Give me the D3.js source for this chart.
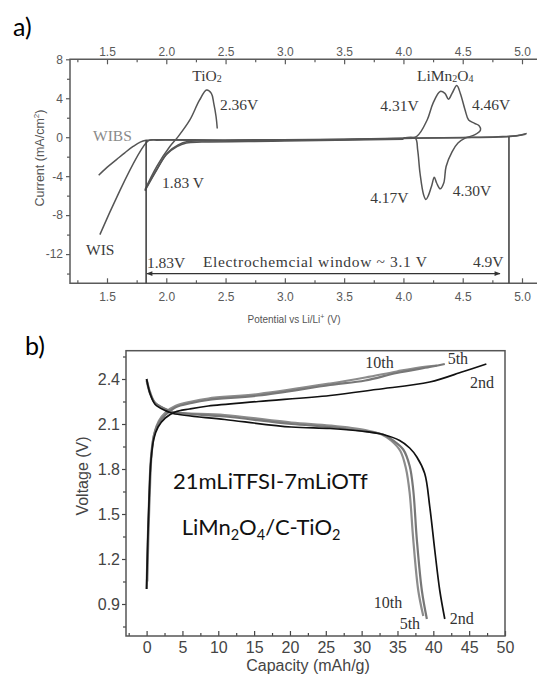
<!DOCTYPE html>
<meta charset="utf-8">
<style>
    body { margin: 0; background: #fff; }
    svg { display: block; }
    .tick text { font-family: "Liberation Sans", Arial, sans-serif; }
    .serif { font-family: "Liberation Serif", "Times New Roman", serif; }
</style>
<svg width="537" height="676"></svg>
<script src="https://cdnjs.cloudflare.com/ajax/libs/d3/7.8.5/d3.min.js"></script>
<script>

    // ---------- panel a: linear sweeps (V vs Li/Li+, mA/cm2) ----------
    var wibs = [[1.43, -3.9], [1.5, -3.1], [1.58, -2.3], [1.65, -1.6], [1.72, -0.95], [1.78, -0.5],
        [1.83, -0.32], [1.9, -0.27], [2.5, -0.28], [3.5, -0.22], [4.0, -0.1], [4.5, -0.02],
        [4.8, 0.05], [4.95, 0.15], [5.04, 0.38]];
    var wis = [[1.44, -10.0], [1.85, -0.35], [1.92, -0.3], [2.5, -0.33], [3.5, -0.25], [4.0, -0.12],
        [4.5, -0.05], [4.8, 0.02], [4.95, 0.12], [5.03, 0.3]];
    var tio2Up = [[1.82, -5.4], [1.92, -3.0], [2.03, -0.96], [2.10, 0.06], [2.20, 1.8], [2.28, 3.8],
        [2.34, 4.85], [2.38, 4.5], [2.40, 3.5], [2.42, 2.1], [2.43, 0.9]];
    var tio2Down1 = [[1.82, -5.5], [1.92, -3.35], [2.0, -1.8], [2.09, -0.96], [2.17, -0.6],
        [2.3, -0.5], [3.0, -0.4], [4.0, -0.2]];
    var tio2Down2 = [[1.83, -5.2], [1.93, -3.1], [2.01, -1.6], [2.1, -0.8], [2.18, -0.45],
        [2.3, -0.38], [3.0, -0.3], [4.0, -0.12]];
    var lmo = [[4.0, -0.05], [4.11, 0.06], [4.20, 1.77], [4.25, 3.5], [4.31, 4.7], [4.35, 4.5],
        [4.38, 3.9], [4.41, 4.5], [4.45, 5.3], [4.48, 4.5], [4.52, 2.8], [4.55, 1.77], [4.60, 1.43],
        [4.64, 1.16], [4.65, 0.75], [4.60, 0.24], [4.52, -0.1], [4.46, -0.6], [4.41, -1.5],
        [4.36, -3.0], [4.34, -4.7], [4.31, -5.3], [4.28, -4.7], [4.26, -4.1], [4.24, -4.9],
        [4.21, -6.0], [4.19, -6.4], [4.17, -5.9], [4.14, -3.7], [4.12, -1.3], [4.10, -0.1], [4.0, -0.08]];

    var potTicks = [1.5, 2.0, 2.5, 3.0, 3.5, 4.0, 4.5, 5.0];
    var potMinor = [1.25, 1.75, 2.25, 2.75, 3.25, 3.75, 4.25, 4.75];
    var curTicks = [-12, -8, -4, 0, 4, 8];
    var curMinor = [-14, -10, -6, -2, 2, 6];

    var winLeft = 1.83, winRight = 4.89;
    var notesA = [
        {t: "TiO_2", x: 2.343, y: 5.78, anchor: "middle"},
        {t: "2.36V", x: 2.453, y: 2.8},
        {t: "LiMn_2O_4", x: 4.114, y: 5.78},
        {t: "4.31V", x: 3.805, y: 2.7},
        {t: "4.46V", x: 4.578, y: 2.8},
        {t: "WIBS", x: 1.382, y: -0.43, fill: "#8a8a8a"},
        {t: "1.83 V", x: 1.964, y: -5.2},
        {t: "WIS", x: 1.323, y: -12.07},
        {t: "1.83V", x: 1.837, y: -13.4},
        {t: "Electrochemcial window ~ 3.1 V", x: 2.309, y: -13.3, len: 224},
        {t: "4.9V", x: 4.586, y: -13.3},
        {t: "4.17V", x: 3.72, y: -6.74},
        {t: "4.30V", x: 4.417, y: -6.02}
    ];

    // ---------- panel b: charge / discharge (mAh/g, V) ----------
    var charge2 = [[0, 1.0], [0.15, 1.3], [0.35, 1.6], [0.6, 1.85], [1.0, 2.0], [1.6, 2.08], [2.6, 2.14],
        [4.0, 2.18], [6, 2.2], [8.6, 2.22], [15.6, 2.25], [25.6, 2.29], [32, 2.33], [39.5, 2.38],
        [44.2, 2.45], [47.4, 2.50]];
    var charge5 = [[0, 1.0], [0.15, 1.3], [0.35, 1.6], [0.6, 1.87], [1.0, 2.02], [1.6, 2.1], [2.6, 2.16],
        [4.0, 2.21], [6.3, 2.24], [8.6, 2.26], [15.6, 2.29], [25.6, 2.36], [30.5, 2.39], [34.9, 2.44],
        [39.5, 2.48], [41.6, 2.50]];
    var charge10 = [[0.1, 1.05], [0.25, 1.35], [0.45, 1.65], [0.7, 1.9], [1.1, 2.04], [1.7, 2.12],
        [2.7, 2.18], [4.0, 2.22], [6.3, 2.25], [8.6, 2.27], [15.6, 2.3], [25.6, 2.37], [30.5, 2.41],
        [34.9, 2.45], [38.5, 2.48], [40.5, 2.49]];
    var discharge2 = [[0, 2.40], [0.5, 2.30], [1.2, 2.23], [2.6, 2.19], [3.7, 2.17], [10.9, 2.13],
        [20.2, 2.08], [25.6, 2.07], [30.5, 2.05], [33, 2.03], [35.3, 1.99], [36.7, 1.94], [37.7, 1.88],
        [38.8, 1.77], [39.5, 1.55], [40.2, 1.26], [40.9, 0.99], [41.6, 0.80]];
    var discharge5 = [[0, 2.40], [0.5, 2.31], [1.2, 2.24], [2.6, 2.2], [3.7, 2.18], [10.9, 2.15],
        [20.2, 2.1], [25.6, 2.08], [30.5, 2.05], [33, 2.03], [34.4, 1.99], [35.8, 1.93], [36.7, 1.82],
        [37.2, 1.66], [37.7, 1.33], [38.4, 0.99], [39.1, 0.80]];
    var discharge10 = [[0, 2.39], [0.5, 2.3], [1.2, 2.24], [2.6, 2.2], [3.7, 2.18], [10.9, 2.16],
        [20.2, 2.11], [25.6, 2.09], [30.5, 2.06], [32.8, 2.03], [34.1, 1.99], [35.4, 1.92], [36.2, 1.8],
        [36.7, 1.64], [37.2, 1.33], [37.9, 0.99], [38.6, 0.82]];

    var capTicks = [0, 5, 10, 15, 20, 25, 30, 35, 40, 45, 50];
    var capMinor = [-2.5, 2.5, 7.5, 12.5, 17.5, 22.5, 27.5, 32.5, 37.5, 42.5, 47.5];
    var voltTicks = [0.9, 1.2, 1.5, 1.8, 2.1, 2.4];
    var voltMinor = [0.75, 1.05, 1.35, 1.65, 1.95, 2.25, 2.55];

    var notesB = [
        {t: "10th", x: 30.5, y: 2.475},
        {t: "5th", x: 42.0, y: 2.50},
        {t: "2nd", x: 45.1, y: 2.342},
        {t: "10th", x: 31.7, y: 0.875},
        {t: "5th", x: 35.3, y: 0.733},
        {t: "2nd", x: 42.3, y: 0.765}
    ];

    var svg = d3.select("svg");

    // writes "LiMn_2O_4" as text with subscripts
    function rich(sel, str, subSize, subDy) {
        var parts = str.split("_");
        sel.append("tspan").text(parts[0]);
        for (var i = 1; i < parts.length; i++) {
            sel.append("tspan").attr("font-size", subSize).attr("dy", subDy).text(parts[i].charAt(0));
            sel.append("tspan").attr("dy", -subDy).text(parts[i].slice(1));
        }
    }

    function styleAxis(g, color, fontSize) {
        g.select(".domain").remove();
        g.selectAll(".tick line").attr("stroke", color).attr("stroke-width", 1.2);
        g.selectAll(".tick text").attr("fill", color).attr("font-size", fontSize);
    }

    var plain = function (d) { return String(d); };
    var oneDec = function (d) { return d.toFixed(1); };

    // ================= panel a =================
    var xA = d3.scaleLinear().domain([1.5, 5.0]).range([107, 522]);
    var yA = d3.scaleLinear().domain([-15, 8]).range([283.3, 59.3]);
    var fa = {l: 70, r: 540, t: 59.3, b: 283.3};
    var axCol = "#5a5a5a";

    svg.append("text").attr("x", 13).attr("y", 36)
        .attr("font-family", "Lato, 'Open Sans', sans-serif").attr("font-size", 25).text("a)");

    var gA = svg.append("g");

    gA.append("g").attr("transform", "translate(0," + fa.b + ")")
        .call(d3.axisBottom(xA).tickValues(potTicks).tickFormat(oneDec)
            .tickSizeInner(-5).tickSizeOuter(0).tickPadding(9))
        .call(styleAxis, axCol, 12);
    gA.append("g").attr("transform", "translate(0," + fa.b + ")")
        .call(d3.axisBottom(xA).tickValues(potMinor).tickFormat("").tickSizeInner(-3).tickSizeOuter(0))
        .call(styleAxis, axCol, 12);
    gA.append("g").attr("transform", "translate(0," + fa.t + ")")
        .call(d3.axisTop(xA).tickValues(potTicks).tickFormat(oneDec)
            .tickSizeInner(-5).tickSizeOuter(0).tickPadding(3.5))
        .call(styleAxis, axCol, 12);
    gA.append("g").attr("transform", "translate(0," + fa.t + ")")
        .call(d3.axisTop(xA).tickValues(potMinor).tickFormat("").tickSizeInner(-3).tickSizeOuter(0))
        .call(styleAxis, axCol, 12);
    gA.append("g").attr("transform", "translate(" + fa.l + ",0)")
        .call(d3.axisLeft(yA).tickValues(curTicks).tickFormat(plain)
            .tickSizeInner(4).tickSizeOuter(0).tickPadding(3))
        .call(styleAxis, axCol, 12);
    gA.append("g").attr("transform", "translate(" + fa.l + ",0)")
        .call(d3.axisLeft(yA).tickValues(curMinor).tickFormat("").tickSizeInner(3).tickSizeOuter(0))
        .call(styleAxis, axCol, 12);

    gA.append("path")
        .attr("d", "M" + fa.r + "," + fa.t + "H" + fa.l + "V" + fa.b + "H" + fa.r)
        .attr("fill", "none").attr("stroke", axCol).attr("stroke-width", 1.5);

    var lineA = d3.line().x(function (d) { return xA(d[0]); }).y(function (d) { return yA(d[1]); })
        .curve(d3.curveCatmullRom.alpha(0.5));

    [wibs, wis, tio2Down1, tio2Down2, tio2Up, lmo].forEach(function (s) {
        gA.append("path").datum(s).attr("d", lineA)
            .attr("fill", "none").attr("stroke", "#555").attr("stroke-width", 1.5);
    });

    // window limits
    gA.append("line").attr("x1", xA(winLeft)).attr("x2", xA(winLeft))
        .attr("y1", yA(-0.3)).attr("y2", fa.b).attr("stroke", "#444").attr("stroke-width", 1.6);
    gA.append("line").attr("x1", xA(winRight)).attr("x2", xA(winRight))
        .attr("y1", yA(0.05)).attr("y2", fa.b).attr("stroke", "#444").attr("stroke-width", 1.6);

    svg.append("defs").selectAll("marker").data(["s", "e"]).enter().append("marker")
        .attr("id", function (d) { return "arr" + d; })
        .attr("viewBox", "0 0 10 10").attr("refX", 9).attr("refY", 5)
        .attr("markerWidth", 7).attr("markerHeight", 5).attr("orient", "auto-start-reverse")
        .append("path").attr("d", "M0,1L10,5L0,9Z").attr("fill", "#333");
    gA.append("line").attr("x1", xA(1.837)).attr("x2", xA(4.814))
        .attr("y1", yA(-14)).attr("y2", yA(-14))
        .attr("stroke", "#333").attr("stroke-width", 1.2)
        .attr("marker-start", "url(#arrs)").attr("marker-end", "url(#arre)");

    notesA.forEach(function (n) {
        var t = gA.append("text").attr("class", "serif")
            .attr("x", xA(n.x)).attr("y", yA(n.y))
            .attr("font-size", 15.5).attr("fill", n.fill || "#3a3a3a")
            .attr("text-anchor", n.anchor || "start");
        if (n.len) t.attr("textLength", n.len).attr("lengthAdjust", "spacing");
        rich(t, n.t, 10, 1.5);
    });

    var yLabA = svg.append("text").attr("transform", "translate(44,158) rotate(-90)")
        .attr("text-anchor", "middle").attr("font-family", "'Liberation Sans', Arial, sans-serif")
        .attr("font-size", 12.5).attr("fill", "#555");
    yLabA.append("tspan").text("Current (mA/cm");
    yLabA.append("tspan").attr("font-size", 8).attr("dy", -5).text("2");
    yLabA.append("tspan").attr("dy", 5).text(")");

    var xLabA = svg.append("text").attr("x", 294).attr("y", 323)
        .attr("text-anchor", "middle").attr("font-family", "'Liberation Sans', Arial, sans-serif")
        .attr("font-size", 10).attr("fill", "#555");
    xLabA.append("tspan").text("Potential vs Li/Li");
    xLabA.append("tspan").attr("font-size", 7).attr("dy", -4).text("+");
    xLabA.append("tspan").attr("dy", 4).text(" (V)");

    // ================= panel b =================
    var xB = d3.scaleLinear().domain([0, 50]).range([146.6, 505]);
    var yB = d3.scaleLinear().domain([0.9, 2.4]).range([604, 379]);
    var fb = {l: 126, r: 505, t: 350.7, b: 636};
    var axColB = "#444";

    svg.append("text").attr("x", 25).attr("y", 355)
        .attr("font-family", "Lato, 'Open Sans', sans-serif").attr("font-size", 25).text("b)");

    var gB = svg.append("g");

    gB.append("g").attr("transform", "translate(0," + fb.b + ")")
        .call(d3.axisBottom(xB).tickValues(capTicks).tickFormat(plain)
            .tickSizeInner(-5).tickSizeOuter(0).tickPadding(6))
        .call(styleAxis, axColB, 16);
    gB.append("g").attr("transform", "translate(0," + fb.b + ")")
        .call(d3.axisBottom(xB).tickValues(capMinor).tickFormat("").tickSizeInner(-3).tickSizeOuter(0))
        .call(styleAxis, axColB, 16);
    gB.append("g").attr("transform", "translate(" + fb.l + ",0)")
        .call(d3.axisLeft(yB).tickValues(voltTicks).tickFormat(oneDec)
            .tickSizeInner(4).tickSizeOuter(0).tickPadding(2))
        .call(styleAxis, axColB, 16);
    gB.append("g").attr("transform", "translate(" + fb.l + ",0)")
        .call(d3.axisLeft(yB).tickValues(voltMinor).tickFormat("").tickSizeInner(3).tickSizeOuter(0))
        .call(styleAxis, axColB, 16);

    gB.append("rect").attr("x", fb.l).attr("y", fb.t)
        .attr("width", fb.r - fb.l).attr("height", fb.b - fb.t)
        .attr("fill", "none").attr("stroke", "#555").attr("stroke-width", 1.5);

    var lineB = d3.line().x(function (d) { return xB(d[0]); }).y(function (d) { return yB(d[1]); })
        .curve(d3.curveCatmullRom.alpha(0.5));

    var cycles = [
        {d: charge10, c: "#8c8c8c", w: 2.2}, {d: discharge10, c: "#8c8c8c", w: 2.2},
        {d: charge5, c: "#777", w: 2.2}, {d: discharge5, c: "#777", w: 2.2},
        {d: charge2, c: "#111", w: 1.7}, {d: discharge2, c: "#111", w: 1.7}
    ];
    cycles.forEach(function (s) {
        gB.append("path").datum(s.d).attr("d", lineB)
            .attr("fill", "none").attr("stroke", s.c).attr("stroke-width", s.w);
    });

    notesB.forEach(function (n) {
        gB.append("text").attr("class", "serif")
            .attr("x", xB(n.x)).attr("y", yB(n.y))
            .attr("font-size", 16).attr("fill", "#333").text(n.t);
    });

    var cellFont = "Lato, 'Open Sans', sans-serif";
    gB.append("text").attr("x", xB(3.68)).attr("y", yB(1.667))
        .attr("font-family", cellFont).attr("font-size", 22).attr("fill", "#111")
        .text("21mLiTFSI-7mLiOTf");
    var cell = gB.append("text").attr("x", xB(4.9)).attr("y", yB(1.36))
        .attr("font-family", cellFont).attr("font-size", 22).attr("fill", "#111");
    rich(cell, "LiMn_2O_4/C-TiO_2", 14.5, 5);

    svg.append("text").attr("transform", "translate(88,476) rotate(-90)")
        .attr("text-anchor", "middle").attr("font-family", "'Liberation Sans', Arial, sans-serif")
        .attr("font-size", 16).attr("fill", "#444").text("Voltage (V)");
    svg.append("text").attr("x", 308).attr("y", 671)
        .attr("text-anchor", "middle").attr("font-family", "'Liberation Sans', Arial, sans-serif")
        .attr("font-size", 16).attr("fill", "#444").text("Capacity (mAh/g)");

</script>
